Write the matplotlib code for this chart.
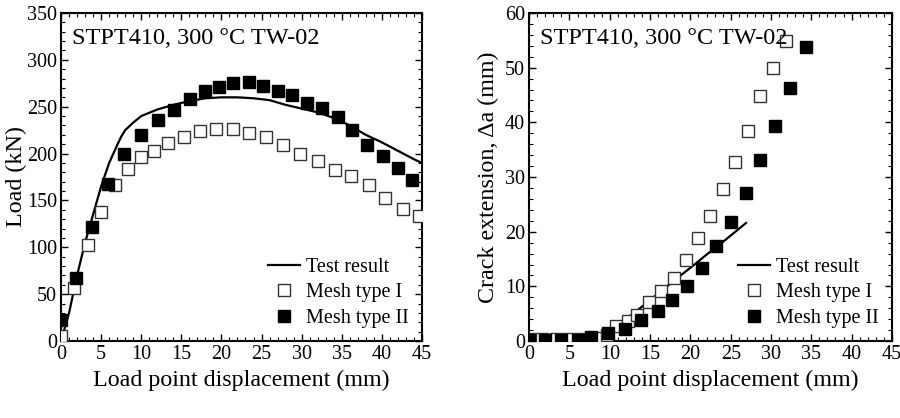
import matplotlib
matplotlib.use("Agg")
import matplotlib.pyplot as plt
from matplotlib.ticker import MultipleLocator

plt.rcParams['font.family'] = ['Liberation Serif', 'DejaVu Serif']
plt.rcParams['mathtext.fontset'] = 'stix'

# ---- Left: Load vs displacement ----
test_x = [0, 1, 2, 3, 4, 5, 6, 7, 7.5, 8, 8.5, 9, 10, 12, 14, 16, 18, 20, 22, 24, 26, 28, 30, 32, 34, 36, 38, 40, 42, 44, 45]
test_y = [0, 30, 70, 105, 135, 165, 190, 209, 218, 225, 229, 233, 240, 247, 252, 256, 259, 260, 260, 259, 257, 252, 248, 244, 238, 230, 220, 212, 203, 194, 190]

m1_x = [0, 1.6, 3.4, 4.95, 6.7, 8.3, 10, 11.6, 13.3, 15.3, 17.3, 19.3, 21.4, 23.4, 25.5, 27.7, 29.8, 32, 34.2, 36.1, 38.4, 40.4, 42.6, 44.6]
m1_y = [5, 57, 102, 137.5, 166, 183.5, 196, 203, 211, 218, 224.5, 226.5, 226, 221.6, 217.4, 209, 200, 192, 182, 176, 166, 153, 141, 133]

m2_x = [0, 1.9, 3.9, 5.8, 7.9, 10, 12.1, 14.1, 16.1, 18, 19.7, 21.5, 23.4, 25.2, 27, 28.8, 30.7, 32.6, 34.5, 36.3, 38.2, 40.2, 42, 43.8]
m2_y = [23, 67, 121.5, 168, 200, 220, 235.6, 247, 258, 267, 270.5, 275, 276.5, 272, 266.6, 262, 253.7, 248.4, 239.5, 225, 209, 197.4, 185, 171.4]

# ---- Right: Crack extension vs displacement ----
ct_x = [0, 7, 8, 9, 10, 11, 12, 14, 16, 18, 20, 22, 24, 26, 26.9]
ct_y = [0.3, 0.3, 0.6, 1.1, 1.8, 2.8, 4.0, 6.3, 8.7, 11.1, 13.4, 15.8, 18.1, 20.5, 21.6]

c1_x = [0, 1.6, 3.3, 5, 6.5, 8.3, 9.6, 10.8, 12.3, 13.4, 14.9, 16.4, 18, 19.5, 21, 22.4, 24, 25.5, 27.1, 28.6, 30.2, 31.8]
c1_y = [0.3, 0.3, 0.3, 0.3, 0.3, 0.6, 1.1, 2.7, 3.7, 4.8, 7.1, 9.2, 11.6, 14.9, 18.9, 22.8, 27.9, 32.8, 38.5, 44.8, 49.9, 54.8]

c2_x = [0, 2, 4, 6, 7.7, 9.8, 11.9, 13.9, 16, 17.7, 19.6, 21.4, 23.2, 25, 26.9, 28.6, 30.5, 32.4, 34.3]
c2_y = [0.2, 0.2, 0.2, 0.2, 0.7, 1.5, 2.3, 3.8, 5.5, 7.6, 10.1, 13.4, 17.4, 21.8, 27.1, 33.1, 39.4, 46.3, 53.8]

labels = ['Test result', 'Mesh type I', 'Mesh type II']
title_txt = 'STPT410, 300 °C TW-02'

fig = plt.figure(figsize=(9, 4.18), dpi=100)
ax1 = fig.add_axes([0.0678, 0.184, 0.401, 0.785])
ax2 = fig.add_axes([0.588, 0.184, 0.403, 0.785])

def style(ax, xmaj, xmin, ymaj, ymin, xlim, ylim):
    ax.set_xlim(*xlim)
    ax.set_ylim(*ylim)
    ax.xaxis.set_major_locator(MultipleLocator(xmaj))
    ax.xaxis.set_minor_locator(MultipleLocator(xmin))
    ax.yaxis.set_major_locator(MultipleLocator(ymaj))
    ax.yaxis.set_minor_locator(MultipleLocator(ymin))
    ax.tick_params(which='both', direction='in', top=True, right=True, labelsize=14.5, pad=3)
    ax.tick_params(which='major', length=5, width=1)
    ax.tick_params(which='minor', length=3, width=0.8)
    for s in ax.spines.values():
        s.set_linewidth(1.5)

def draw(ax, lx, ly, ax1x, ax1y, ax2x, ax2y):
    l, = ax.plot(lx, ly, color='black', lw=1.6, zorder=2)
    o, = ax.plot(ax1x, ax1y, ls='none', marker='s', ms=8, mfc='white', mec='#333333', mew=1.0, zorder=3)
    f, = ax.plot(ax2x, ax2y, ls='none', marker='s', ms=9, mfc='black', mec='black', zorder=4)
    ax.legend([l, o, f], labels, loc='lower right', frameon=False, fontsize=14.5,
              handlelength=1.6, handletextpad=0.3, labelspacing=0.32,
              borderaxespad=0.25)
    ax.text(0.03, 0.955, title_txt, transform=ax.transAxes, fontsize=17.5, va='top', ha='left')

draw(ax1, test_x, test_y, m1_x, m1_y, m2_x, m2_y)
style(ax1, 5, 1, 50, 10, (0, 45), (0, 350))
ax1.set_xlabel('Load point displacement (mm)', fontsize=17.3, labelpad=4)
ax1.set_ylabel('Load (kN)', fontsize=17.3, labelpad=0)

draw(ax2, ct_x, ct_y, c1_x, c1_y, c2_x, c2_y)
style(ax2, 5, 1, 10, 2, (0, 45), (0, 60))
ax2.set_xlabel('Load point displacement (mm)', fontsize=17.3, labelpad=4)
ax2.set_ylabel('Crack extension, Δa (mm)', fontsize=17.3, labelpad=4)

fig.savefig('out.png', dpi=100)
